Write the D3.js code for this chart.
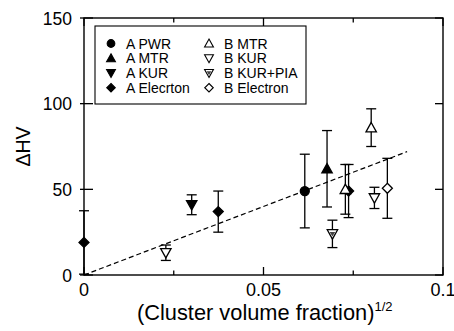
<!DOCTYPE html>
<html>
<head>
<meta charset="utf-8">
<script src="https://cdn.jsdelivr.net/npm/d3@7"></script>
<style>
  body { margin: 0; background: #fff; }
  svg { display: block; font-family: "Liberation Sans", Arial, sans-serif; }
</style>
</head>
<body>
<div id="chart"><svg width="454" height="331"></svg></div>
<script>
// legend order
const seriesNames = ['A PWR', 'A MTR', 'A KUR', 'A Elecrton', 'B MTR', 'B KUR', 'B KUR+PIA', 'B Electron'];

// one entry per plotted point
const pointSeries = ['A Elecrton', 'B KUR', 'A KUR', 'A Elecrton', 'A PWR', 'A MTR', 'B KUR+PIA', 'A Elecrton', 'B MTR', 'B MTR', 'B KUR', 'B Electron'];
const pointX = [0, 0.0228, 0.0300, 0.0374, 0.0615, 0.0677, 0.0692, 0.0737, 0.0728, 0.0800, 0.0809, 0.0845];
const pointY = [19, 13, 41, 37, 49, 62, 24, 49, 50, 86, 45, 50.6];
const pointErr = [18.5, 4.5, 5.8, 12, 21.5, 22.3, 8, 15.5, 14.5, 11, 6.2, 17.5];

// fitted line
const fitX = [0, 0.09];
const fitY = [0, 72];

const xTicks = [0, 0.05, 0.1];
const xMinorTicks = [0.025, 0.075];
const yTicks = [0, 50, 100, 150];

const svg = d3.select('#chart svg');
const M = { left: 84, right: 443, top: 18, bottom: 275 };

const X = d3.scaleLinear().domain([0, 0.1]).range([M.left, M.right]);
const Y = d3.scaleLinear().domain([0, 150]).range([M.bottom, M.top]);

// marker shapes
function markerPath(name) {
  const t = 5.2;
  if (name === 'A PWR') return d3.symbol(d3.symbolCircle, 64)();
  if (name.includes('MTR')) return `M0,${-t}L${t},${t * 0.8}L${-t},${t * 0.8}Z`;
  if (name.includes('KUR')) return `M0,${t}L${t},${-t * 0.8}L${-t},${-t * 0.8}Z`;
  return 'M0,-5L5,0L0,5L-5,0Z';
}
const filled = name => name.startsWith('A');

function drawMarker(g, name) {
  g.append('path')
    .attr('d', markerPath(name))
    .attr('fill', filled(name) ? '#000' : '#fff')
    .attr('stroke', '#000')
    .attr('stroke-width', 1.3);
  if (name === 'B KUR+PIA') {
    g.append('path').attr('d', 'M0,2.6L2.8,-2L-2.8,-2Z').attr('fill', '#444');
  }
}

// dashed fit line
svg.append('line')
  .attr('x1', X(fitX[0])).attr('y1', Y(fitY[0]))
  .attr('x2', X(fitX[1])).attr('y2', Y(fitY[1]))
  .attr('stroke', '#000')
  .attr('stroke-width', 1.2)
  .attr('stroke-dasharray', '5,3');

// error bars
const errG = svg.append('g').attr('stroke', '#000').attr('stroke-width', 1.3);
pointX.forEach((x, i) => {
  const cx = X(x);
  const lo = Math.max(0, pointY[i] - pointErr[i]);
  const hi = pointY[i] + pointErr[i];
  errG.append('line').attr('x1', cx).attr('x2', cx).attr('y1', Y(lo)).attr('y2', Y(hi));
  errG.append('line').attr('x1', cx - 5).attr('x2', cx + 5).attr('y1', Y(hi)).attr('y2', Y(hi));
  if (lo > 0) errG.append('line').attr('x1', cx - 5).attr('x2', cx + 5).attr('y1', Y(lo)).attr('y2', Y(lo));
});

// markers
pointX.forEach((x, i) => {
  const g = svg.append('g').attr('transform', `translate(${X(x)},${Y(pointY[i])})`);
  drawMarker(g, pointSeries[i]);
});

// frame
svg.append('rect')
  .attr('x', M.left).attr('y', M.top)
  .attr('width', M.right - M.left).attr('height', M.bottom - M.top)
  .attr('fill', 'none').attr('stroke', '#000').attr('stroke-width', 1.4);

const tickG = svg.append('g').attr('stroke', '#000').attr('stroke-width', 1.3);
xTicks.forEach(v => {
  tickG.append('line').attr('x1', X(v)).attr('x2', X(v)).attr('y1', M.bottom).attr('y2', M.bottom - 8);
  tickG.append('line').attr('x1', X(v)).attr('x2', X(v)).attr('y1', M.top).attr('y2', M.top + 8);
});
xMinorTicks.forEach(v => {
  tickG.append('line').attr('x1', X(v)).attr('x2', X(v)).attr('y1', M.bottom).attr('y2', M.bottom - 4.5);
  tickG.append('line').attr('x1', X(v)).attr('x2', X(v)).attr('y1', M.top).attr('y2', M.top + 4.5);
});
yTicks.forEach(v => {
  tickG.append('line').attr('x1', M.left - 4).attr('x2', M.left + 9).attr('y1', Y(v)).attr('y2', Y(v));
  tickG.append('line').attr('x1', M.right).attr('x2', M.right - 8).attr('y1', Y(v)).attr('y2', Y(v));
});

// tick labels
svg.selectAll('.xl').data(xTicks).join('text')
  .attr('x', d => X(d)).attr('y', 296)
  .attr('text-anchor', 'middle')
  .style('font-size', '18px')
  .text(d => d === 0 ? '0' : d3.format('~g')(d));

svg.selectAll('.yl').data(yTicks).join('text')
  .attr('x', 72).attr('y', d => Y(d) + 6.5)
  .attr('text-anchor', 'end')
  .style('font-size', '17.5px')
  .text(d => d);

// axis titles
const xt = svg.append('text')
  .attr('x', 137).attr('y', 320)
  .style('font-size', '21.8px');
xt.append('tspan').text('(Cluster volume fraction)');
xt.append('tspan').attr('dy', -9).style('font-size', '13px').text('1/2');

svg.append('text')
  .attr('transform', `translate(30,${(M.top + M.bottom) / 2}) rotate(-90)`)
  .attr('text-anchor', 'middle')
  .style('font-size', '19.5px')
  .text('ΔHV');

// legend
svg.append('rect')
  .attr('x', 95).attr('y', 26).attr('width', 211).attr('height', 78)
  .attr('fill', '#fff').attr('stroke', '#000').attr('stroke-width', 1.1);

seriesNames.forEach((name, i) => {
  const col = Math.floor(i / 4), row = i % 4;
  const mx = col === 0 ? 111 : 209;
  const my = 43.5 + row * 14.75;
  const g = svg.append('g').attr('transform', `translate(${mx},${my}) scale(0.85)`);
  drawMarker(g, name);
  svg.append('text')
    .attr('x', mx + 15).attr('y', my + 5)
    .style('font-size', '14px')
    .text(name);
});
</script>
</body>
</html>
